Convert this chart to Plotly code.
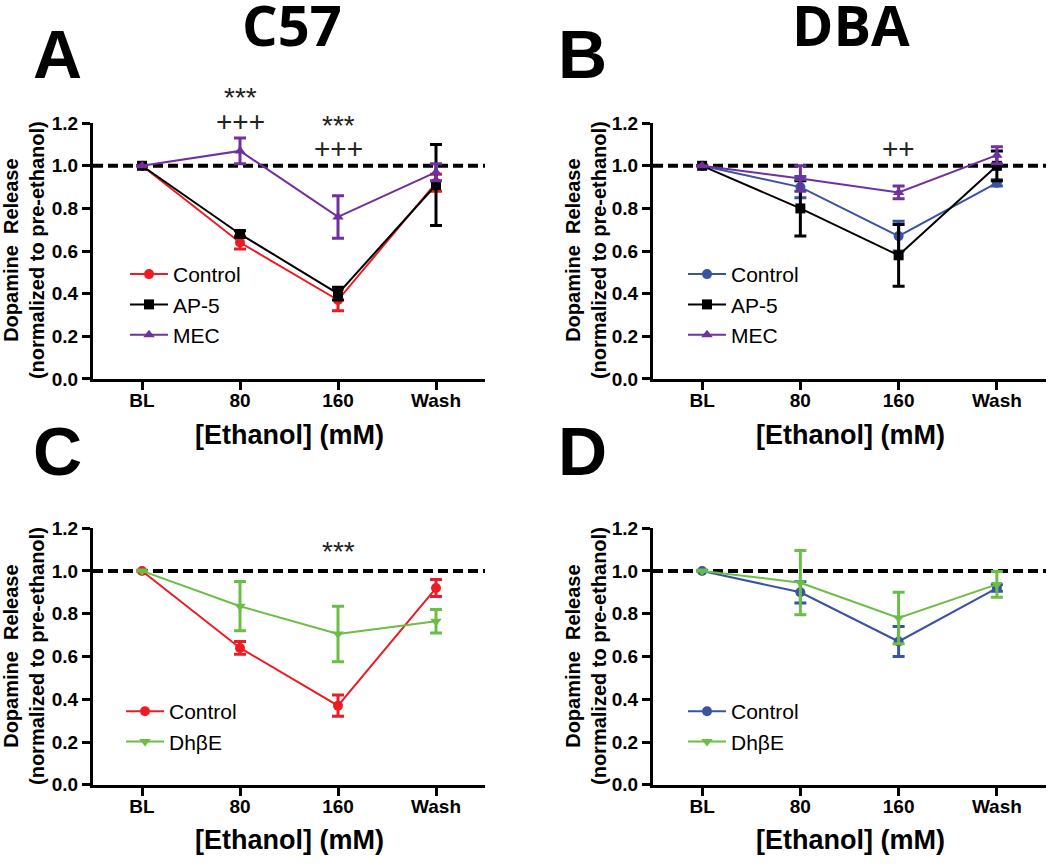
"""Ethanol-evoked dopamine release, C57 vs DBA, four panels."""

import plotly.graph_objects as go

# ---- data ----
categories = ["BL", "80", "160", "Wash"]
baseline = 1.0
y_max = 1.2

c57_control = [1.0, 0.64, 0.37, 0.92]
c57_control_err = [0.0, 0.03, 0.05, 0.04]
c57_ap5 = [1.0, 0.68, 0.40, 0.91]
c57_ap5_err = [0.0, 0.015, 0.03, 0.19]
c57_mec = [1.0, 1.07, 0.76, 0.97]
c57_mec_err = [0.0, 0.06, 0.10, 0.04]
c57_dhbe = [1.0, 0.835, 0.705, 0.765]
c57_dhbe_err = [0.0, 0.115, 0.13, 0.055]

dba_control = [1.0, 0.90, 0.67, 0.92]
dba_control_err = [0.0, 0.05, 0.07, 0.015]
dba_ap5 = [1.0, 0.80, 0.58, 1.00]
dba_ap5_err = [0.0, 0.13, 0.145, 0.07]
dba_mec = [1.0, 0.94, 0.875, 1.05]
dba_mec_err = [0.0, 0.06, 0.03, 0.04]
dba_dhbe = [1.0, 0.945, 0.78, 0.937]
dba_dhbe_err = [0.0, 0.15, 0.12, 0.06]

# significance marks: (text, panel, category, height)
sig_marks = [
    ("***", 1, "80", 1.32),
    ("+++", 1, "80", 1.21),
    ("***", 1, "160", 1.19),
    ("+++", 1, "160", 1.08),
    ("++", 2, "160", 1.08),
    ("***", 3, "160", 1.09),
]

RED = "#ED1C24"
BLACK = "#000000"
PURPLE = "#7030A0"
BLUE = "#3953A4"
GREEN = "#6ABD45"

ARIAL = "Arial, Liberation Sans, sans-serif"

fig = go.Figure()


def add_series(y, err, name, color, symbol, axis, legend):
    xa, ya = axis
    fig.add_trace(
        go.Scatter(
            x=categories,
            y=y,
            name=name,
            mode="lines+markers",
            line={"color": color, "width": 2},
            marker={"color": color, "size": 10, "symbol": symbol},
            error_y={"type": "data", "array": err, "color": color,
                     "thickness": 3, "width": 6},
            xaxis=xa,
            yaxis=ya,
            legend=legend,
            cliponaxis=False,
        )
    )


# panel A: C57
add_series(c57_control, c57_control_err, "Control", RED, "circle", ("x", "y"), "legend")
add_series(c57_ap5, c57_ap5_err, "AP-5", BLACK, "square", ("x", "y"), "legend")
add_series(c57_mec, c57_mec_err, "MEC", PURPLE, "triangle-up", ("x", "y"), "legend")
# panel B: DBA
add_series(dba_control, dba_control_err, "Control", BLUE, "circle", ("x2", "y2"), "legend2")
add_series(dba_ap5, dba_ap5_err, "AP-5", BLACK, "square", ("x2", "y2"), "legend2")
add_series(dba_mec, dba_mec_err, "MEC", PURPLE, "triangle-up", ("x2", "y2"), "legend2")
# panel C: C57
add_series(c57_control, c57_control_err, "Control", RED, "circle", ("x3", "y3"), "legend3")
add_series(c57_dhbe, c57_dhbe_err, "Dh\u03b2E", GREEN, "triangle-down", ("x3", "y3"), "legend3")
# panel D: DBA
add_series(dba_control, dba_control_err, "Control", BLUE, "circle", ("x4", "y4"), "legend4")
add_series(dba_dhbe, dba_dhbe_err, "Dh\u03b2E", GREEN, "triangle-down", ("x4", "y4"), "legend4")

W, H = 1050, 868
left_dom = [93 / W, 485 / W]
right_dom = [653 / W, 1046 / W]
top_dom = [1 - 378 / H, 1 - 116 / H]
bot_dom = [1 - 794 / H, 1 - 531 / H]

tick_font = {"family": ARIAL, "size": 19, "color": "black", "weight": "bold"}


def xaxis(domain, anchor):
    return dict(
        domain=domain, anchor=anchor, type="category",
        categoryorder="array", categoryarray=categories,
        range=[-0.5, 3.5], showline=True, linecolor="black", linewidth=3,
        ticks="outside", ticklen=8, tickwidth=3, tickcolor="black",
        tickfont=tick_font, showgrid=False, zeroline=False,
        ticklabelstandoff=-6,
    )


def yaxis(domain, anchor):
    return dict(
        domain=domain, anchor=anchor, range=[0, y_max], dtick=0.2,
        tickformat=".1f", showline=True, linecolor="black", linewidth=3,
        ticks="outside", ticklen=8, tickwidth=3, tickcolor="black",
        tickfont=tick_font, showgrid=False, zeroline=False,
    )


def legend(xpix, ypix):
    return dict(
        x=xpix / W, y=1 - ypix / H, xanchor="left", yanchor="top",
        bgcolor="rgba(0,0,0,0)", font={"family": ARIAL, "size": 21, "color": "black"},
        tracegroupgap=0, itemclick=False, itemwidth=38,
    )


fig.update_layout(
    width=W,
    height=H,
    margin={"l": 0, "r": 0, "t": 0, "b": 0},
    paper_bgcolor="white",
    plot_bgcolor="white",
    xaxis=xaxis(left_dom, "y"),
    yaxis=yaxis(top_dom, "x"),
    xaxis2=xaxis(right_dom, "y2"),
    yaxis2=yaxis(top_dom, "x2"),
    xaxis3=xaxis(left_dom, "y3"),
    yaxis3=yaxis(bot_dom, "x3"),
    xaxis4=xaxis(right_dom, "y4"),
    yaxis4=yaxis(bot_dom, "x4"),
    legend=legend(125, 250),
    legend2=legend(683, 250),
    legend3=legend(121, 698),
    legend4=legend(683, 698),
)

# dashed pre-ethanol reference line
for n in ["", "2", "3", "4"]:
    fig.add_shape(
        type="line", xref=f"x{n} domain", yref=f"y{n}",
        x0=0, x1=1, y0=baseline, y1=baseline,
        line={"color": "black", "width": 4, "dash": "10px,5px"},
        layer="below",
    )

ann = []

# panel letters and strain titles
for letter, xp, yp in [("A", 57, 45), ("B", 582, 45), ("C", 57, 452), ("D", 582, 452)]:
    ann.append(dict(text=letter, x=xp / W, y=1 - yp / H, xref="paper", yref="paper",
                    showarrow=False, xanchor="center", yanchor="middle",
                    font={"family": ARIAL, "size": 68, "color": "black", "weight": "bold"}))
for title, xp in [("C57", 292), ("DBA", 851)]:
    ann.append(dict(text=title, x=xp / W, y=1 - 14 / H, xref="paper", yref="paper",
                    showarrow=False, xanchor="center", yanchor="middle",
                    font={"family": "Open Sans, sans-serif", "size": 56,
                          "color": "black", "weight": "bold"}))

# axis titles
xtitle_font = {"family": ARIAL, "size": 27, "color": "black", "weight": "bold"}
for xc in [289, 850]:
    ann.append(dict(text="[Ethanol] (mM)", x=xc / W, y=1 - 436 / H, xref="paper",
                    yref="paper", showarrow=False, xanchor="center", yanchor="middle",
                    font=xtitle_font))
    ann.append(dict(text="[Ethanol] (mM)", x=xc / W, y=0, xref="paper",
                    yref="paper", showarrow=False, xanchor="center", yanchor="bottom",
                    font=xtitle_font))
for xc, yc in [(24, 246), (586, 246), (24, 662), (586, 662)]:
    ann.append(dict(text="Dopamine  Release<br>(normalized to pre-ethanol)",
                    x=xc / W, y=1 - yc / H, xref="paper", yref="paper",
                    showarrow=False, xanchor="center", yanchor="middle", textangle=-90,
                    font={"family": ARIAL, "size": 20, "color": "black", "weight": "bold"}))

# significance marks, on the category axis by index; height via the axis domain
# so that marks above the top of the y range are still drawn
sig_font = {"family": ARIAL, "size": 28, "color": "#222222"}
for text, panel, cat, yv in sig_marks:
    suffix = "" if panel == 1 else str(panel)
    ann.append(dict(text=text, x=categories.index(cat), y=yv / y_max,
                    xref=f"x{suffix}", yref=f"y{suffix} domain", showarrow=False,
                    xanchor="center", yanchor="middle", font=sig_font))

fig.update_layout(annotations=ann)

# drop the default page margin so the figure fills the window exactly
fig.write_html("out.html", config={"displayModeBar": False},
               post_script="document.body.style.margin='0';")
